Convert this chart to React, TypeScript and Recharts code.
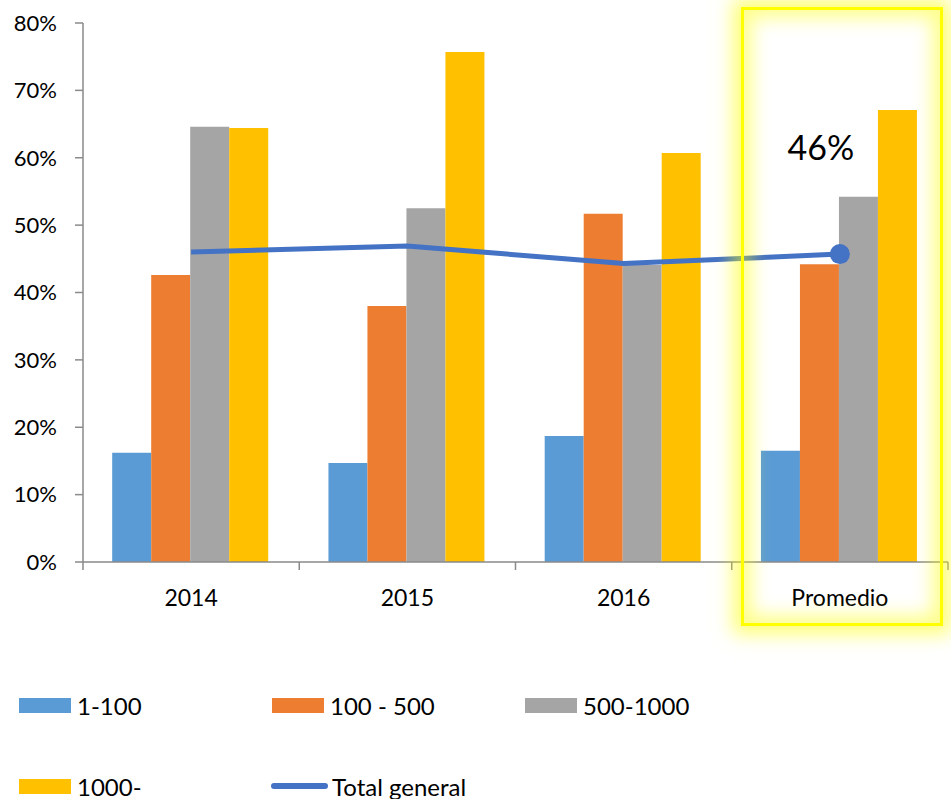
import React from "react";
import { ComposedChart, Bar, Line, XAxis, YAxis, LabelList } from "recharts";

const categories = ["2014", "2015", "2016", "Promedio"];
const s1_100 = [0.162, 0.147, 0.187, 0.165];
const s100_500 = [0.426, 0.38, 0.517, 0.442];
const s500_1000 = [0.646, 0.525, 0.441, 0.542];
const s1000 = [0.644, 0.757, 0.607, 0.671];
const totalGeneral = [0.46, 0.469, 0.443, 0.457];
const yTicks = [0, 0.1, 0.2, 0.3, 0.4, 0.5, 0.6, 0.7, 0.8];

const seriesNames = ["1-100", "100 - 500", "500-1000", "1000-", "Total general"];
const COLORS = ["#5B9BD5", "#ED7D31", "#A5A5A5", "#FFC000", "#4472C4"];

const data = categories.map((c, i) => ({
  cat: c,
  a: s1_100[i],
  b: s100_500[i],
  c: s500_1000[i],
  d: s1000[i],
  t: totalGeneral[i],
}));

const FONT = "Lato, 'Open Sans', sans-serif";
const AXIS = "#8a8a8a";
const TEXT = "#000";

const pct = (v: number) => `${Math.round(v * 100)}%`;

const XTick = (props: any) => {
  const { x, y, payload, width, index } = props;
  const half = width / categories.length / 2;
  const last = index === categories.length - 1;
  return (
    <g>
      <line x1={x - half} x2={x - half} y1={y} y2={y + 8} stroke={AXIS} strokeWidth={1.5} />
      {last && <line x1={x + half} x2={x + half} y1={y} y2={y + 8} stroke={AXIS} strokeWidth={1.5} />}
      <text x={x} y={y + 44} textAnchor="middle" fontFamily={FONT} fontSize={23} fill={TEXT}>
        {payload.value}
      </text>
    </g>
  );
};

const EndDot = (props: any) => {
  const { cx, cy, index } = props;
  if (index !== categories.length - 1) return <g key={`d${index}`} />;
  return <circle key={`d${index}`} cx={cx} cy={cy} r={10} fill={COLORS[4]} />;
};

const EndLabel = (props: any) => {
  const { x, y, value, index } = props;
  if (index !== categories.length - 1) return null;
  return (
    <text x={x - 19} y={y - 94} textAnchor="middle" fontFamily={FONT} fontSize={34} fill={TEXT}>
      {pct(value)}
    </text>
  );
};

const LegendItem = ({ i, left, top }: { i: number; left: number; top: number }) => (
  <div style={{ position: "absolute", left, top, display: "flex", alignItems: "center", height: 30 }}>
    {i === 4 ? (
      <div style={{ width: 57, height: 6, borderRadius: 3, background: COLORS[i], marginRight: 4 }} />
    ) : (
      <div style={{ width: 52, height: 15, background: COLORS[i], marginRight: 6 }} />
    )}
    <span style={{ fontFamily: FONT, fontSize: 24, color: TEXT, whiteSpace: "nowrap" }}>{seriesNames[i]}</span>
  </div>
);

export default function App() {
  return (
    <div style={{ position: "absolute", left: 0, top: 0, width: 951, height: 799, background: "#fff", overflow: "hidden" }}>
      <ComposedChart
        width={951}
        height={640}
        data={data}
        margin={{ top: 23, right: 3, left: 0, bottom: 0 }}
        barCategoryGap="13.5%"
        barGap={0}
      >
        <XAxis
          dataKey="cat"
          height={78}
          tickLine={false}
          tickSize={0}
          tickMargin={0}
          axisLine={{ stroke: AXIS, strokeWidth: 1.5 }}
          tick={<XTick />}
          interval={0}
        />
        <YAxis
          width={83}
          domain={[0, 0.8]}
          ticks={yTicks}
          tickFormatter={pct}
          tickSize={8}
          tickMargin={18}
          axisLine={{ stroke: AXIS, strokeWidth: 1.5 }}
          tickLine={{ stroke: AXIS, strokeWidth: 1.5 }}
          tick={{ fontFamily: FONT, fontSize: 22, fill: TEXT }}
        />
        <Bar dataKey="a" fill={COLORS[0]} isAnimationActive={false} />
        <Bar dataKey="b" fill={COLORS[1]} isAnimationActive={false} />
        <Bar dataKey="c" fill={COLORS[2]} isAnimationActive={false} />
        <Bar dataKey="d" fill={COLORS[3]} isAnimationActive={false} />
        <Line
          dataKey="t"
          type="linear"
          stroke={COLORS[4]}
          strokeWidth={5}
          dot={<EndDot />}
          activeDot={false}
          isAnimationActive={false}
        >
          <LabelList dataKey="t" content={<EndLabel />} />
        </Line>
      </ComposedChart>
      <div
        style={{
          position: "absolute",
          left: 741,
          top: 7,
          width: 196,
          height: 613,
          border: "3px solid #FFFF00",
          boxShadow: "0 0 18px 8px rgba(255,255,0,0.55), inset 0 0 18px 8px rgba(255,255,0,0.45)",
          pointerEvents: "none",
        }}
      />
      <LegendItem i={0} left={19} top={690} />
      <LegendItem i={1} left={272} top={690} />
      <LegendItem i={2} left={525} top={690} />
      <LegendItem i={3} left={19} top={771} />
      <LegendItem i={4} left={271} top={771} />
    </div>
  );
}
